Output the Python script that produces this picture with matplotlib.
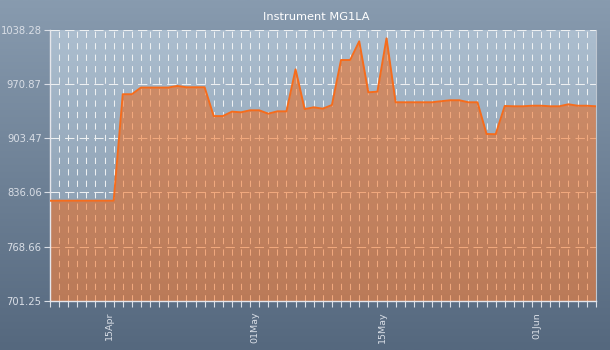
import numpy as np
import pandas as pd
import matplotlib
matplotlib.use("Agg")
import matplotlib.pyplot as plt
import matplotlib.dates as mdates
from matplotlib.colors import LinearSegmentedColormap

# Daily readings for instrument MG1LA
start_date = "2013-04-08"
readings = [
    825.7, 825.7, 825.7, 825.7, 825.7, 825.7, 825.7, 825.7,   # Apr 8 - Apr 15
    958.3, 958.3, 966.6, 966.6, 966.6, 966.6, 968.6, 967.0,   # Apr 16 - Apr 23
    967.0, 967.0, 931.1, 931.1, 936.6, 935.8, 938.3, 938.3,   # Apr 24 - May 1
    934.1, 937.0, 937.0, 989.3, 939.8, 942.0, 940.3, 944.9,   # May 2 - May 9
    1000.9, 1000.9, 1024.2, 960.7, 961.5, 1027.9, 948.3, 948.3,  # May 10 - May 17
    948.3, 948.3, 948.3, 949.6, 950.8, 950.8, 948.3, 948.3,   # May 18 - May 25
    908.8, 908.5, 943.7, 943.3, 943.3, 944.0, 944.0, 943.3,   # May 26 - Jun 2
    943.3, 945.8, 944.0, 944.0, 943.3,                        # Jun 3 - Jun 7
]
y_ticks = [701.25, 768.66, 836.06, 903.47, 970.87, 1038.28]
x_tick_dates = ["2013-04-15", "2013-05-01", "2013-05-15", "2013-06-01"]
x_tick_labels = ["15Apr", "01May", "15May", "01Jun"]
title = "Instrument MG1LA"

dates = pd.date_range(start_date, periods=len(readings), freq="D")

W, H = 610, 350
fig = plt.figure(figsize=(W / 100, H / 100), dpi=100)

# Figure background: vertical blue-grey gradient
bg_ax = fig.add_axes([0, 0, 1, 1], zorder=-10)
bg_cmap = LinearSegmentedColormap.from_list(
    "figbg", [(85 / 255, 104 / 255, 126 / 255), (136 / 255, 155 / 255, 175 / 255)])
bg_ax.imshow(np.linspace(0, 1, 256).reshape(-1, 1), aspect="auto", cmap=bg_cmap,
             origin="lower", extent=[0, 1, 0, 1])
bg_ax.set_axis_off()

left, right, top, bottom = 50, 595.7, 30, 300.7
ax = fig.add_axes([left / W, (H - bottom) / H, (right - left) / W, (bottom - top) / H])
ax.set_facecolor("none")

# Plot area gradient
pa_cmap = LinearSegmentedColormap.from_list(
    "plotbg", [(128 / 255, 148 / 255, 168 / 255), (172 / 255, 190 / 255, 207 / 255)])
ax.imshow(np.linspace(0, 1, 256).reshape(-1, 1), aspect="auto", cmap=pa_cmap,
          origin="lower", extent=[0, 1, 0, 1], transform=ax.transAxes, zorder=0)

x = mdates.date2num(dates)
ax.set_xlim(x[0], x[-1])
ax.set_ylim(y_ticks[0], y_ticks[-1])

ax.fill_between(x, y_ticks[0], readings, color=(245 / 255, 98 / 255, 10 / 255),
                alpha=0.5, linewidth=0, zorder=2)
ax.plot(x, readings, color=(246 / 255, 108 / 255, 28 / 255), linewidth=1.4, zorder=3)

ax.set_yticks(y_ticks)
ax.set_yticklabels([f"{v:.2f}" for v in y_ticks])
ax.set_xticks(mdates.date2num(pd.to_datetime(x_tick_dates)))
ax.set_xticklabels(x_tick_labels, rotation=90, ha="right", va="top")
ax.xaxis.set_minor_locator(mdates.DayLocator())

# Dashed grid sits below the translucent fill
grid_col = (0.93, 0.94, 0.95)
ax.set_axisbelow(True)
ax.grid(True, which="both", axis="x", color=grid_col, linestyle=(0, (6, 5)), linewidth=0.75)
ax.grid(True, which="major", axis="y", color=grid_col, linestyle=(0, (9, 5)), linewidth=0.75)

label_col = (0.85, 0.87, 0.9)
ax.tick_params(axis="y", which="major", length=4, width=0.8, color=label_col,
               labelcolor=label_col, labelsize=7.2, pad=2)
ax.tick_params(axis="x", which="both", length=4, width=0.8, color=label_col,
               labelcolor=label_col, labelsize=6.8, pad=4)

for side in ["left", "bottom"]:
    ax.spines[side].set_color((0.9, 0.9, 0.92))
    ax.spines[side].set_linewidth(1.0)
ax.spines["right"].set_color((0.75, 0.78, 0.82))
ax.spines["right"].set_linewidth(0.8)
ax.spines["top"].set_visible(False)

fig.text(316 / W, 1 - 17 / H, title, color="white", fontsize=8.2,
         ha="center", va="center")

fig.savefig("out.png", dpi=100)
